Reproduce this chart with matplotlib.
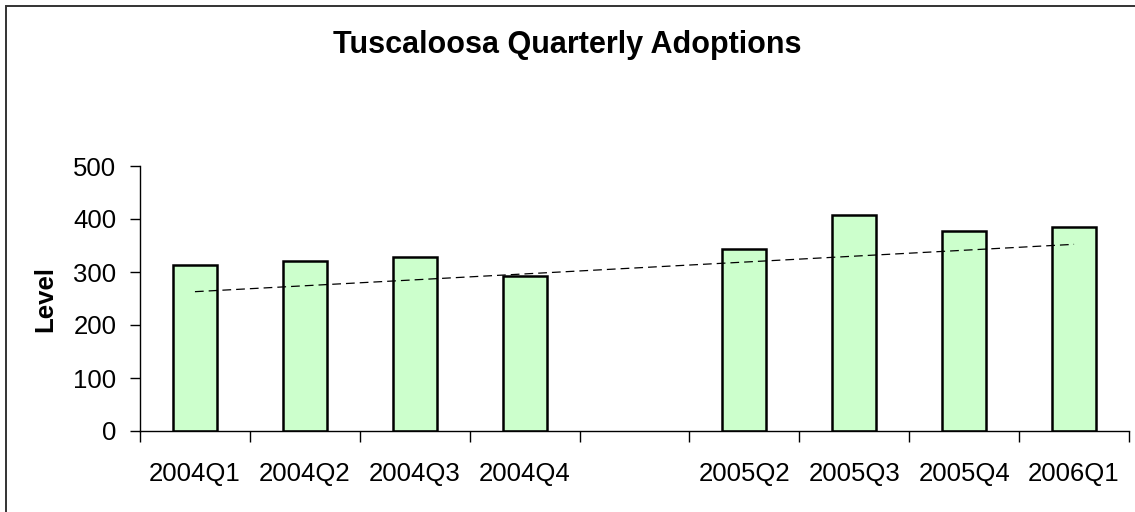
import numpy as np
import matplotlib.pyplot as plt
from matplotlib.patches import Rectangle

plt.rcParams['font.family'] = ['Liberation Sans', 'DejaVu Sans']

# quarters (2005Q1 slot is empty in the source chart)
quarters = ['2004Q1', '2004Q2', '2004Q3', '2004Q4', '',
            '2005Q2', '2005Q3', '2005Q4', '2006Q1']
adoptions = [313, 321, 328, 292, np.nan, 343, 408, 378, 385]

x = np.arange(len(quarters))
y = np.array(adoptions, dtype=float)
has = ~np.isnan(y)

fig = plt.figure(figsize=(11.35, 5.12), dpi=100)
ax = fig.add_axes([140 / 1135, 1 - 431 / 512, 989 / 1135, 265 / 512])

# bars
ax.bar(x[has], y[has], width=0.4, color='#CCFFCC',
       edgecolor='black', linewidth=1.8, zorder=2)

# linear trend (Excel treats the empty quarter as zero)
coef = np.polyfit(x + 1, np.nan_to_num(y), 1)
trend = np.polyval(coef, x + 1)
ax.plot(x, trend, color='black', linestyle=(0, (7, 4)), linewidth=0.9, zorder=3)

ax.set_xlim(-0.5, len(quarters) - 0.5)
ax.set_ylim(0, 500)
ax.set_yticks([0, 100, 200, 300, 400, 500])

# category ticks sit between the bars, labels in the middle
ax.set_xticks(np.arange(len(quarters) + 1) - 0.5)
ax.set_xticklabels([])
ax.set_xticks(x, minor=True)
ax.set_xticklabels(quarters, minor=True)
ax.tick_params(axis='x', which='major', length=8, width=1, direction='out')
ax.tick_params(axis='x', which='minor', length=0, pad=22, labelsize=18.5)
ax.tick_params(axis='y', length=7, width=1, direction='out', pad=10, labelsize=18.5)

for side in ['top', 'right']:
    ax.spines[side].set_visible(False)
ax.spines['left'].set_linewidth(1)
ax.spines['bottom'].set_linewidth(1)

ax.set_ylabel('Level', fontsize=18.5, fontweight='bold')
ax.yaxis.set_label_coords(-83 / 989, 0.5)

fig.text(0.5, 1 - 53 / 512, 'Tuscaloosa Quarterly Adoptions',
         ha='center', va='baseline', fontsize=22, fontweight='bold')

# chart area border (cut off on the right and bottom)
fig.patches.append(Rectangle((6 / 1135, -0.1), 1.2, 1.1 - 5.5 / 512,
                             transform=fig.transFigure, fill=False,
                             edgecolor='#333333', linewidth=1.4))

fig.savefig('out.png', dpi=100)
